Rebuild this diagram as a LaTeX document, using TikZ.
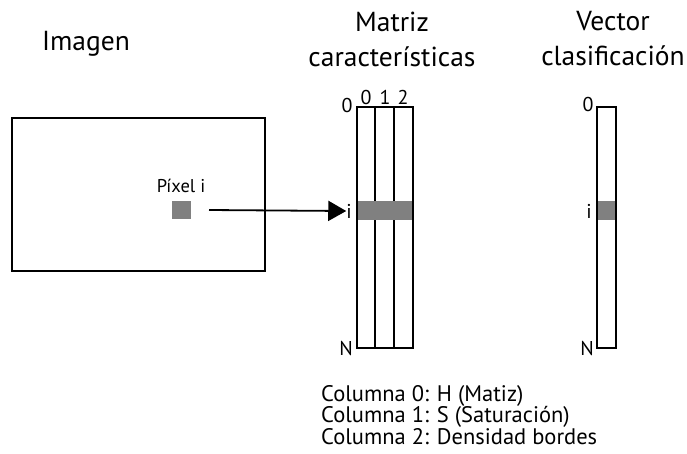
\documentclass[tikz,border=0pt]{standalone}
\usepackage{fontspec}
\setmainfont{PT Sans}
\usetikzlibrary{arrows.meta}
\begin{document}
\begin{tikzpicture}[x=1pt,y=-1pt,
  box/.style={draw=black,line width=1.7pt},
  cell/.style={fill=black!50,draw=none},
  title/.style={font=\fontsize{27.5}{35}\selectfont,align=center},
  lbl/.style={font=\fontsize{20}{22}\selectfont,inner sep=0pt}]
\useasboundingbox (0,0) rectangle (687,453);
% titles
\node[title] (timg) at (86,44) {Imagen};
\node[title] (tmat) at (392,39) {Matriz\\características};
\node[title] (tvec) at (613,39) {Vector\\clasificación};
% image
\draw[box] (12,118) rectangle (265,271);
\node[cell,minimum width=19pt,minimum height=18pt,inner sep=0pt] (px) at (181.5,210) {};
\node[font=\fontsize{18.5}{20}\selectfont] (pxl) at (181,186) {Píxel i};
% matrix
\fill[black!50] (357,201) rectangle (413,220);
\draw[box] (357,107) rectangle (413,348);
\draw[box] (375,107) -- (375,201) (375,220) -- (375,348);
\draw[box] (394,107) -- (394,201) (394,220) -- (394,348);
\node[lbl] (m0) at (347,105) {0};
\node[lbl] (mc0) at (366,97) {0};
\node[lbl] (mc1) at (385,97) {1};
\node[lbl] (mc2) at (403,97) {2};
\node[lbl,anchor=east] (mil) at (352,211) {i};
\node[lbl] (mN) at (346,348) {N};
% vector
\fill[black!50] (597,201) rectangle (616,220);
\draw[box] (597,107) rectangle (616,348);
\node[lbl] (v0) at (588,104) {0};
\node[lbl,anchor=east] (vil) at (592,211) {i};
\node[lbl] (vN) at (587,348) {N};
% arrow
\coordinate (as) at (209,210);
\draw[line width=1.8pt,-{Triangle[length=18pt,width=20pt]}] (as) -- (mil.west);
% legend
\node[font=\fontsize{22.5}{21.5}\selectfont,align=left,anchor=north west,inner sep=0pt] (leg) at (321,385)
 {Columna 0: H (Matiz)\\Columna 1: S (Saturación)\\Columna 2: Densidad bordes};
\end{tikzpicture}
\end{document}
